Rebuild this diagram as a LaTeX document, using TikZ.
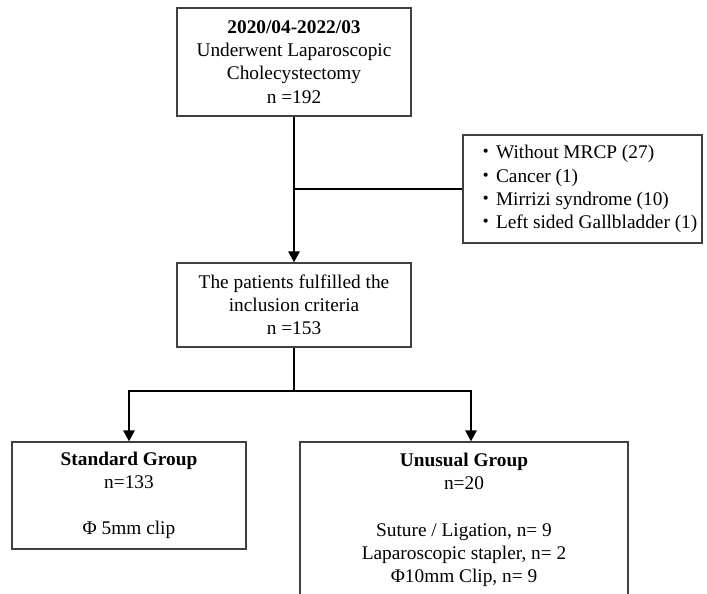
\documentclass[tikz,border=0pt]{standalone}
\usepackage{fontspec}
\setmainfont{Liberation Serif}
\newfontfamily\cjk{Noto Sans CJK JP}
\usetikzlibrary{arrows.meta}

\newcommand{\itm}{\hspace*{0.27cm}{\cjk ・}}

\begin{document}
\begin{tikzpicture}[x=0.03cm, y=-0.03cm]
		\tikzset{bx/.style={rectangle, draw=black!75, line width=1pt, align=center, inner sep=0pt, font=\fontsize{16.5pt}{19.8pt}\selectfont},
			ln/.style={line width=2.2pt},
			arr/.style={ln, -{Triangle[length=9.5pt, width=9.5pt]}}};

		\useasboundingbox (0, 0) rectangle (707, 593);
		\clip (0, 0) rectangle (707, 593);

		\node[bx, minimum width=7.02cm, minimum height=3.24cm] (all) at (294, 62) {\textbf{2020/04-2022/03}\\Underwent Laparoscopic\\Cholecystectomy\\n =192};
		\node[bx, align=left, minimum width=7.17cm, minimum height=3.24cm] (excl) at (582.5, 189) {\itm Without MRCP (27)\\\itm Cancer (1)\\\itm Mirrizi syndrome (10)\\\itm Left sided Gallbladder (1)};
		\node[bx, minimum width=7.02cm, minimum height=2.52cm] (incl) at (294, 305) {The patients fulfilled the\\inclusion criteria\\n =153};
		\node[bx, minimum width=7.02cm, minimum height=3.21cm] (std) at (129, 495.5) {\textbf{Standard Group}\\n=133\\[19.8pt]Φ 5mm clip};
		\node[bx, minimum width=9.84cm, minimum height=4.68cm] (unu) at (464, 520) {\textbf{Unusual Group}\\n=20\\[19.8pt]Suture / Ligation, n= 9\\Laparoscopic stapler, n= 2\\Φ10mm Clip, n= 9};

		\coordinate (split) at (294, 391);

		\draw[arr] (all) -- (incl);
		\draw[ln] (all.south |- excl.west) -- (excl.west);

		\draw[ln] (incl) -- (split);
		\draw[arr] (split) -| (std.north);
		\draw[arr] (split) -| ([xshift=0.21cm]unu.north);
	\end{tikzpicture}
\end{document}
